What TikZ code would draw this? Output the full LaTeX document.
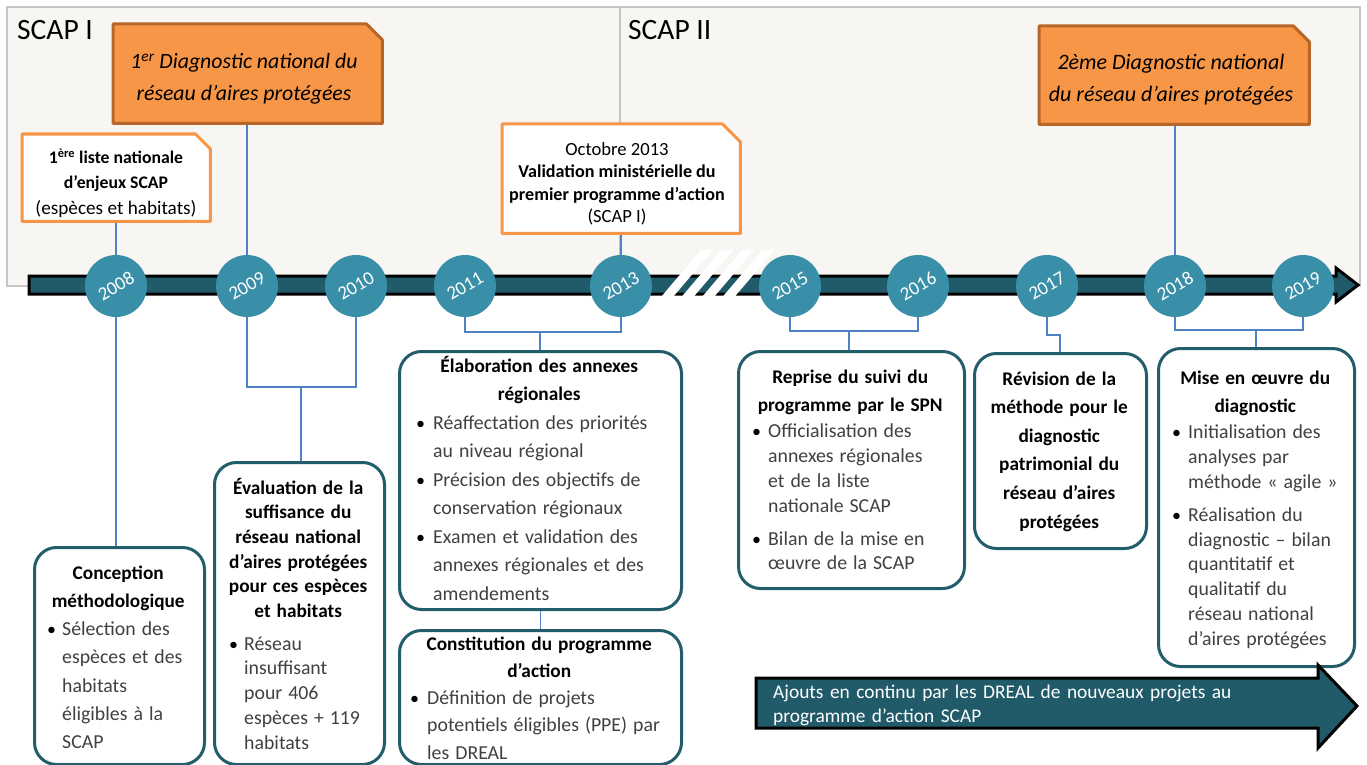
\documentclass[tikz,border=0pt]{standalone}
\usepackage{fontspec}
\setmainfont{Carlito}
\usetikzlibrary{calc}
\definecolor{panelfill}{HTML}{F7F6F3}
\definecolor{panelline}{HTML}{C6C6C6}
\definecolor{bardark}{HTML}{215B69}
\definecolor{circ}{HTML}{3A8FA8}
\definecolor{boxteal}{HTML}{235D6B}
\definecolor{orangefill}{HTML}{F79646}
\definecolor{orangeline}{HTML}{B8652A}
\definecolor{connblue}{HTML}{4F81C7}
\definecolor{bodygray}{HTML}{404040}
\newlength\bloff
\newcommand\bitm[2][16pt]{\par{\let\\\newline\noindent\leftskip=\bloff\hangindent=#1\hangafter=1\makebox[#1][l]{\textcolor{black}{•}}\textcolor{bodygray}{\fontsize{19.8}{\baselineskip}\selectfont #2}\par}}
\newcommand\hd{\fontsize{19.3}{\baselineskip}\selectfont\bfseries}
\begin{document}
\begin{tikzpicture}[x=1pt,y=-1pt,
  panel/.style={draw=panelline, fill=panelfill, line width=1.5pt},
  conn/.style={draw=connblue, line width=1.4pt},
  yr/.style={circle, fill=circ, minimum size=62pt, inner sep=0pt, text=white, font=\fontsize{19}{19}\selectfont},
  rbox/.style={rectangle, draw=boxteal, line width=3pt, rounded corners=22pt, fill=white, inner sep=0pt, anchor=north west},
  frame/.style={rectangle, inner sep=0pt, anchor=north west},
  txt/.style={inner sep=0pt, anchor=base west},
  otxt/.style={inner sep=0pt, align=center}
]
\useasboundingbox (0,0) rectangle (1367,765);
% panels
\draw[panel] (7,7) rectangle (620,286);
\draw[panel] (620,7) rectangle (1360,286);
\node[anchor=base west, inner sep=0pt, font=\fontsize{29.5}{29.5}\selectfont] (scap1) at (17,40) {SCAP I};
\node[anchor=base west, inner sep=0pt, font=\fontsize{29.5}{29.5}\selectfont] (scap2) at (628,40) {SCAP II};

% timeline bar
\draw[fill=bardark, draw=black, line width=3pt, line join=miter]
  (29,276) -- (1336,276) -- (1336,268) -- (1358,285) -- (1336,302) -- (1336,294) -- (29,294) -- cycle;
% break stripes
\foreach \i in {0,1,2,3}{
  \fill[white] ({655+20.5*\i},304) -- ({667+20.5*\i},304) -- ({713+20.5*\i},250) -- ({701+20.5*\i},250) -- cycle;
}

% year circles
\node[yr] (c08) at (116,286) {\rotatebox{30}{2008}};
\node[yr] (c09) at (247,286) {\rotatebox{30}{2009}};
\node[yr] (c10) at (356,286) {\rotatebox{30}{2010}};
\node[yr] (c11) at (465,286) {\rotatebox{30}{2011}};
\node[yr] (c13) at (621,286) {\rotatebox{30}{2013}};
\node[yr] (c15) at (790,286) {\rotatebox{30}{2015}};
\node[yr] (c16) at (918,286) {\rotatebox{30}{2016}};
\node[yr] (c17) at (1047,286) {\rotatebox{30}{2017}};
\node[yr] (c18) at (1175,286) {\rotatebox{30}{2018}};
\node[yr] (c19) at (1303,286) {\rotatebox{30}{2019}};

% top boxes (frames)
\node[frame, minimum width=269pt, minimum height=99pt] (diag1) at (113,24) {};
\node[frame, minimum width=188pt, minimum height=87pt] (liste) at (22,134) {};
\node[frame, minimum width=238pt, minimum height=109pt] (octo) at (502,124) {};
\node[frame, minimum width=270pt, minimum height=98pt] (diag2) at (1039,26) {};

% bottom boxes
\node[rbox, minimum width=170pt, minimum height=217pt] (concep) at (33,546) {};
\node[rbox, minimum width=170pt, minimum height=302pt] (evalu) at (213,461) {};
\node[rbox, minimum width=282pt, minimum height=258pt] (elab) at (398,350) {};
\node[rbox, minimum width=282pt, minimum height=134pt] (const) at (398,629) {};
\node[rbox, minimum width=226pt, minimum height=237pt] (repr) at (737,350) {};
\node[rbox, minimum width=172pt, minimum height=195pt] (revis) at (973,352) {};
\node[rbox, minimum width=196pt, minimum height=318pt] (mise) at (1157,347) {};

% connectors
\coordinate (j1) at (301,387);
\coordinate (j2) at (540,332);
\coordinate (j3) at (849,331);
\coordinate (j4) at (1060,335);
\coordinate (j5) at (1256,330);
\draw[conn] (c08.north) -- (c08.north |- liste.south);
\draw[conn] (c08.south) -- (c08.south |- concep.north);
\draw[conn] (c09.north) -- (c09.north |- diag1.south);
\draw[conn] (c09.south) |- (j1) -| (c10.south);
\draw[conn] (j1) -- (j1 |- evalu.north);
\draw[conn] (c11.south) |- (j2) -| (c13.south);
\draw[conn] (j2) -- (j2 |- elab.north);
\draw[conn] (c13.north) -- (c13.north |- octo.south);
\draw[conn] (elab.south) -- (elab.south |- const.north);
\draw[conn] (c15.south) |- (j3) -| (c16.south);
\draw[conn] (j3) -- (j3 |- repr.north);
\draw[conn] (c17.south) |- (j4) -- (j4 |- revis.north);
\draw[conn] (c18.north) -- (c18.north |- diag2.south);
\draw[conn] (c18.south) |- (j5) -| (c19.south);
\draw[conn] (j5) -- (j5 |- mise.north);

% snipped boxes
\draw[fill=orangefill, draw=orangeline, line width=3pt, line join=round]
  (diag1.north west) -- ([xshift=-16pt]diag1.north east) -- ([yshift=-16pt]diag1.north east) -- (diag1.south east) -- (diag1.south west) -- cycle;
\draw[fill=orangefill, draw=orangeline, line width=3pt, line join=round]
  (diag2.north west) -- ([xshift=-16pt]diag2.north east) -- ([yshift=-16pt]diag2.north east) -- (diag2.south east) -- (diag2.south west) -- cycle;
\draw[fill=white, draw=orangefill, line width=3pt, line join=round]
  (liste.north west) -- ([xshift=-15pt]liste.north east) -- ([yshift=-15pt]liste.north east) -- (liste.south east) -- (liste.south west) -- cycle;
\draw[fill=white, draw=orangefill, line width=3pt, line join=round]
  (octo.north west) -- ([xshift=-18pt]octo.north east) -- ([yshift=-18pt]octo.north east) -- (octo.south east) -- (octo.south west) -- cycle;

% top texts
\node[otxt, font=\itshape\fontsize{21.8}{32}\selectfont] (t-diag1) at (244,79) {1\textsuperscript{er} Diagnostic national du\\réseau d’aires protégées};
\node[otxt, font=\itshape\fontsize{22}{32}\selectfont] (t-diag2) at (1171,80) {2ème Diagnostic national\\du réseau d’aires protégées};
\node[otxt, font=\fontsize{17.7}{25.5}\selectfont] (t-liste) at (116,183) {\textbf{1\textsuperscript{ère} liste nationale}\\\textbf{d’enjeux SCAP}\\{\fontsize{19.2}{25.5}\selectfont (espèces et habitats)}};
\node[otxt, font=\fontsize{18.1}{22.5}\selectfont] (t-octo) at (617,184) {{\fontsize{18.6}{22.5}\selectfont Octobre 2013}\\\textbf{Validation ministérielle du}\\\textbf{premier programme d’action}\\{\fontsize{18.6}{22.5}\selectfont (SCAP I)}};

% box texts
\node[txt, text width=150pt, font=\fontsize{18}{28.3}\selectfont] (t-concep) at (43,579) {%
\raggedright\setlength\bloff{4pt}%
{\centering\hd Conception\\méthodologique\par}
\bitm[15pt]{Sélection des\\espèces et des\\habitats\\éligibles à la\\SCAP}};

\node[txt, text width=156pt, font=\fontsize{18}{24.7}\selectfont] (t-evalu) at (220,494) {%
\raggedright\setlength\bloff{9pt}%
{\centering\hd Évaluation de la\\suffisance du\\réseau national\\d’aires protégées\\pour ces espèces\\et habitats\par}
\vspace{8pt}
\bitm[15pt]{Réseau\\insuffisant\\pour 406\\espèces + 119\\habitats}};

\node[txt, text width=246pt, font=\fontsize{18}{28.5}\selectfont] (t-elab) at (416,372) {%
\raggedright\setlength\bloff{0pt}%
{\centering\hd Élaboration des annexes\\régionales\par}
\bitm[17pt]{Réaffectation des priorités\\au niveau régional}
\bitm[17pt]{Précision des objectifs de\\conservation régionaux}
\bitm[17pt]{Examen et validation des\\annexes régionales et des\\amendements}};

\node[txt, text width=258pt, font=\fontsize{18}{27.3}\selectfont] (t-const) at (410,650) {%
\raggedright\setlength\bloff{0pt}%
{\centering\hd Constitution du programme\\d’action\par}
\bitm[17pt]{Définition de projets\\potentiels éligibles (PPE) par\\les DREAL}};

\node[txt, text width=196pt, font=\fontsize{18}{28}\selectfont] (t-repr) at (752,383) {%
\raggedright\setlength\bloff{0pt}%
{\centering\hd Reprise du suivi du\\programme par le SPN\par}
\fontsize{18}{24.8}\selectfont
\vspace{2pt}
\bitm[16pt]{Officialisation des\\annexes régionales\\et de la liste\\nationale SCAP}
\vspace{8pt}
\bitm[16pt]{Bilan de la mise en\\œuvre de la SCAP}};

\node[txt, text width=156pt, font=\fontsize{18}{28.6}\selectfont] (t-revis) at (981,385) {%
{\centering\hd Révision de la\\méthode pour le\\diagnostic\\patrimonial du\\réseau d’aires\\protégées\par}};

\node[txt, text width=166pt, font=\fontsize{18}{28}\selectfont] (t-mise) at (1172,384) {%
\raggedright\setlength\bloff{0pt}%
{\centering\hd Mise en œuvre du\\diagnostic\par}
\fontsize{18}{24.8}\selectfont
\vspace{2pt}
\bitm[16pt]{Initialisation des\\analyses par\\méthode « agile »}
\vspace{8pt}
\bitm[16pt]{Réalisation du\\diagnostic – bilan\\quantitatif et\\qualitatif du\\réseau national\\d’aires protégées}};

% bottom arrow
\draw[fill=bardark, draw=black, line width=3pt, line join=miter]
  (756,678) -- (1318,678) -- (1318,665) -- (1357,706) -- (1318,748) -- (1318,728) -- (756,728) -- cycle;
\node[txt, text width=540pt, text=white, font=\fontsize{19.4}{24.5}\selectfont] (t-arrow) at (773,698) {\raggedright Ajouts en continu par les DREAL de nouveaux projets au\\programme d’action SCAP};
\end{tikzpicture}
\end{document}
